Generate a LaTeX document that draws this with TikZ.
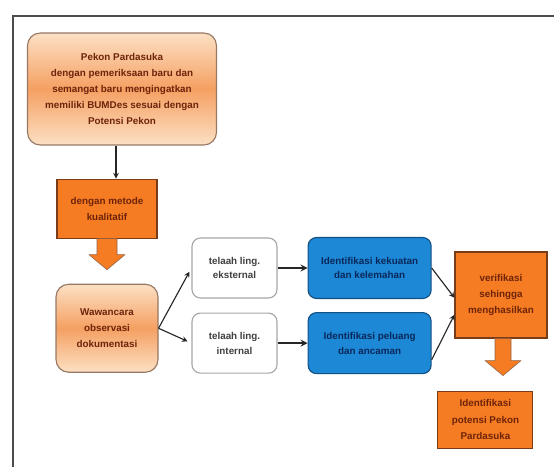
\documentclass[tikz,border=0pt]{standalone}
\usepackage{fontspec}
\setmainfont{Liberation Sans}
\usetikzlibrary{positioning}
\definecolor{PeachLight}{RGB}{252,224,196}
\definecolor{PeachDark}{RGB}{245,160,98}
\definecolor{PeachEdge}{RGB}{150,120,100}
\definecolor{BoxOrange}{RGB}{245,124,34}
\definecolor{OrangeEdge}{RGB}{120,60,25}
\definecolor{BoxBlue}{RGB}{28,136,214}
\definecolor{BlueEdge}{RGB}{20,80,130}
\definecolor{TextBrown}{RGB}{110,35,10}
\definecolor{TextNavy}{RGB}{10,40,90}

\begin{document}
\begin{tikzpicture}[
            softbox/.style={draw=PeachEdge, thick, rounded corners=9pt, top color=PeachLight, bottom color=PeachLight, middle color=PeachDark, text=TextBrown, align=center, font=\fontsize{7}{11.5}\selectfont\bfseries},
            orangebox/.style={draw=OrangeEdge, thick, fill=BoxOrange, text=TextBrown, align=center, font=\fontsize{7}{11.5}\selectfont\bfseries},
            whitebox/.style={draw=gray!70, thick, fill=white, rounded corners=6pt, text=black!75, align=center, minimum width=2.125cm, minimum height=1.5cm, font=\fontsize{7}{10.5}\selectfont\bfseries},
            bluebox/.style={draw=BlueEdge, thick, fill=BoxBlue, rounded corners=6pt, text=TextNavy, align=center, minimum width=3.075cm, minimum height=1.525cm, font=\fontsize{7}{10.5}\selectfont\bfseries},
            arrow/.style={-stealth, thick, black!85},
            blockarrow/.style={draw=OrangeEdge!80, fill=BoxOrange, line join=round}
        ]
            \useasboundingbox (0,0) rectangle (13.85,-11.675);
            \draw [line width=1.6pt, gray!60!black] (0.325,-11.675) |- (13.85,-0.4);

            \node (pekon) [softbox, minimum width=4.725cm, minimum height=2.8cm] at (3.05,-2.225) {Pekon Pardasuka\\ dengan pemeriksaan baru dan\\ semangat baru mengingatkan\\ memiliki BUMDes sesuai dengan\\ Potensi Pekon};
            \node (metode) [orangebox, minimum width=2.5cm, minimum height=1.475cm, below=0.825cm of pekon, xshift=-0.375cm] {dengan metode\\ kualitatif};
            \node (wawancara) [softbox, minimum width=2.55cm, minimum height=2.2cm, below=1.125cm of metode] {Wawancara\\ observasi\\ dokumentasi};
            \node (eksternal) [whitebox] at (5.8625,-6.7) {telaah ling.\\ eksternal};
            \node (internal) [whitebox, below=0.35cm of eksternal] {telaah ling.\\ internal};
            \node (kekuatan) [bluebox, right=0.75cm of eksternal] {Identifikasi kekuatan\\ dan kelemahan};
            \node (peluang) [bluebox, right=0.75cm of internal] {Identifikasi peluang\\ dan ancaman};
            \node (verif) [orangebox, minimum width=2.3cm, minimum height=2.15cm] at (12.525,-7.375) {verifikasi\\ sehingga\\ menghasilkan};
            \node (potensi) [orangebox, minimum width=2.375cm, minimum height=1.425cm, below=1.3cm of verif, xshift=-0.39cm] {Identifikasi\\ potensi Pekon\\ Pardasuka};

            \draw [arrow] ([xshift=-0.15cm]pekon.south) -- ([xshift=-0.15cm]pekon.south |- metode.north);
            \draw [blockarrow] (metode.south) ++(-0.25,0) -- ++(0,-0.4) -- ++(-0.2,0) -- ++(0.45,-0.375) -- ++(0.45,0.375) -- ++(-0.2,0) -- ++(0,0.4) -- cycle;
            \draw [arrow, shorten >=3pt] (wawancara.east) -- (eksternal.west);
            \draw [arrow, shorten >=3pt] (wawancara.east) -- (internal.west);
            \draw [arrow, line width=1.2pt] (eksternal) -- (kekuatan);
            \draw [arrow, line width=1.2pt] (internal) -- (peluang);
            \draw [arrow] (kekuatan.east) -- ([yshift=-2pt]verif.west);
            \draw [arrow] (peluang.-15) -- ([yshift=-14pt]verif.west);
            \draw [blockarrow] (verif.south) ++(-0.15,0) -- ++(0,-0.55) -- ++(-0.25,0) -- ++(0.45,-0.375) -- ++(0.45,0.375) -- ++(-0.25,0) -- ++(0,0.55) -- cycle;
        \end{tikzpicture}
\end{document}
